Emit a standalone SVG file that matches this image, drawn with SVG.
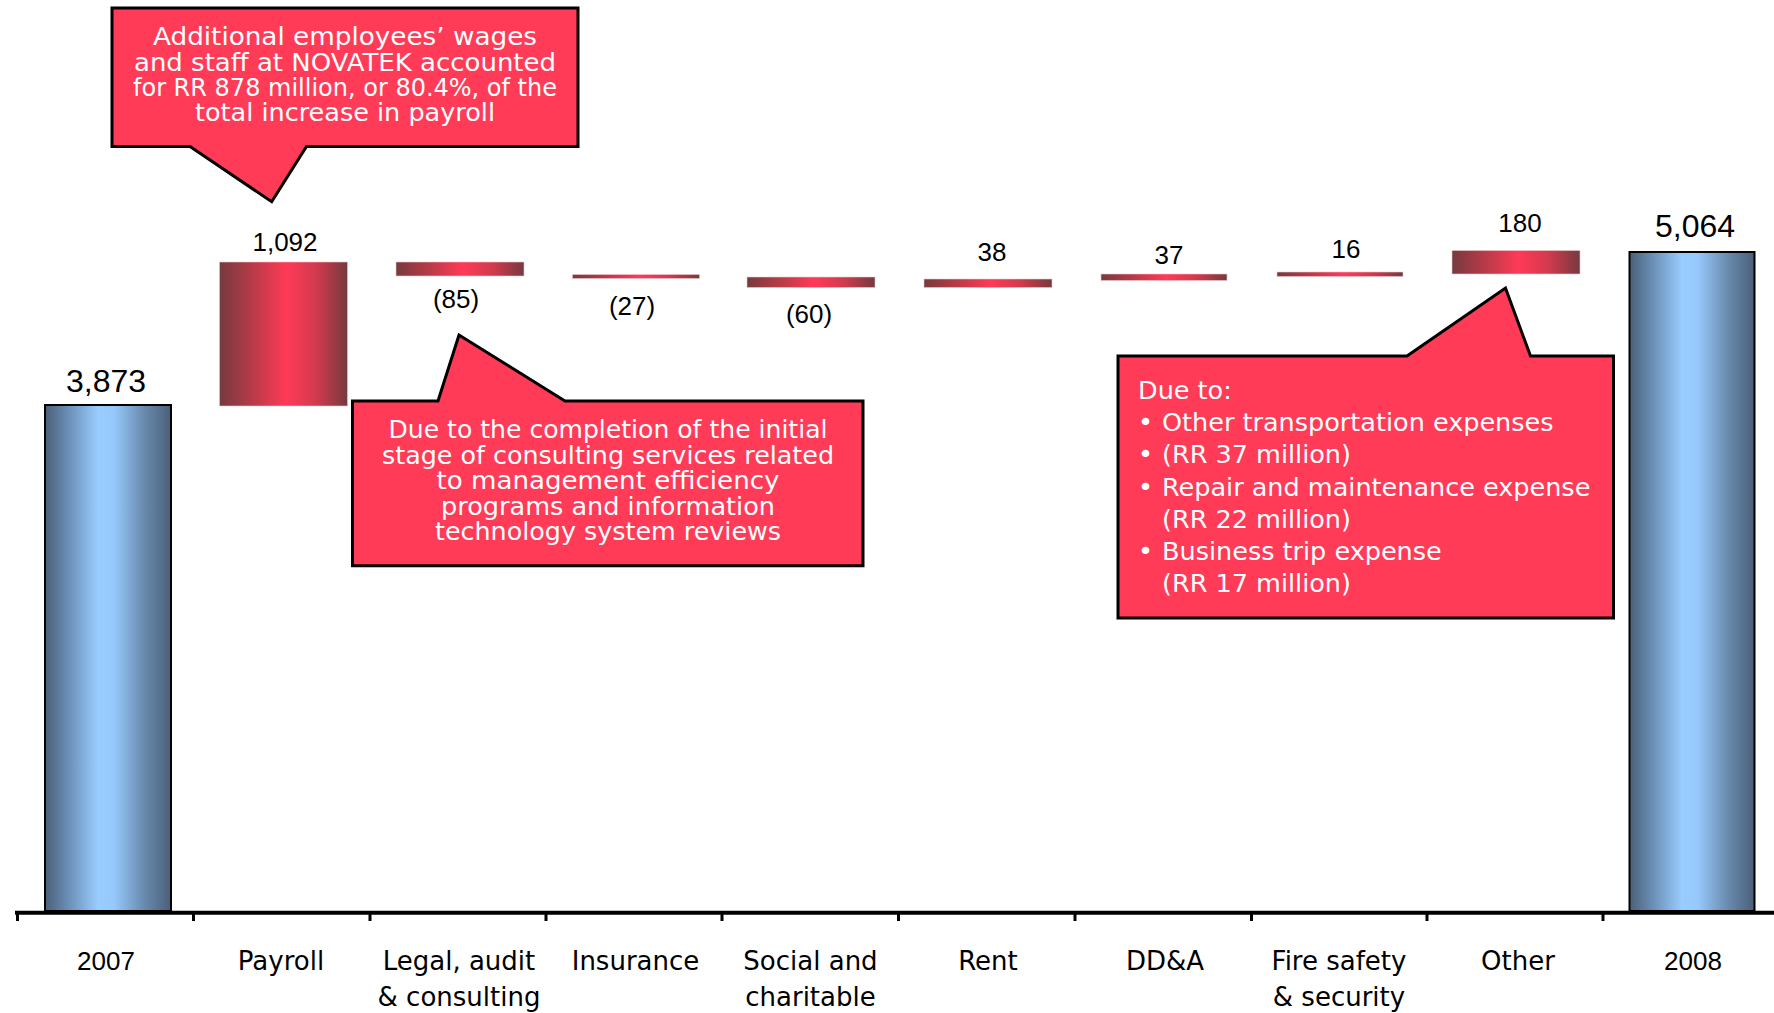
<svg xmlns="http://www.w3.org/2000/svg" width="1774" height="1013" viewBox="0 0 1774 1013">
<defs>
<linearGradient id="gRed" x1="0" y1="0" x2="1" y2="0">
<stop offset="0" stop-color="#763a3e"/>
<stop offset="0.25" stop-color="#b63a48"/>
<stop offset="0.52" stop-color="#ff3a58"/>
<stop offset="0.75" stop-color="#d33a4f"/>
<stop offset="1" stop-color="#763a3e"/>
</linearGradient>
<linearGradient id="gBlue" x1="0" y1="0" x2="1" y2="0">
<stop offset="0" stop-color="#4a6078"/>
<stop offset="0.18" stop-color="#6a8db4"/>
<stop offset="0.42" stop-color="#99ccff"/>
<stop offset="0.55" stop-color="#96c8fb"/>
<stop offset="0.78" stop-color="#6a8cb0"/>
<stop offset="1" stop-color="#4a5f77"/>
</linearGradient>
</defs>
<style>
.red{fill:url(#gRed);stroke:#e9c9cd;stroke-width:0.6}
.blue{fill:url(#gBlue);stroke:#000;stroke-width:2}
.call{fill:#ff3b57;stroke:#000;stroke-width:3;stroke-linejoin:miter}
.ct{font-family:"DejaVu Sans",sans-serif;fill:#fff;font-size:25px}
.num{font-family:"Liberation Sans",Arial,sans-serif;fill:#000;font-size:26px;text-anchor:middle}
.big{font-size:32px}
.lab{font-family:"DejaVu Sans",sans-serif;fill:#000;font-size:26px;text-anchor:middle}
.yr{font-family:"Liberation Sans",Arial,sans-serif}
.axis{stroke:#000;fill:none}
</style>
<rect width="1774" height="1013" fill="#fff"/>

<g id="bar-2007"><rect class="blue" x="45" y="405" width="126" height="506"/><text class="num big" x="106" y="392">3,873</text></g>
<g id="bar-payroll"><rect class="red" x="219.5" y="262" width="128" height="144"/><text class="num" x="285" y="251">1,092</text></g>
<g id="bar-legal"><rect class="red" x="396" y="262" width="128" height="14"/><text class="num" x="456" y="308">(85)</text></g>
<g id="bar-insurance"><rect class="red" x="572.5" y="274.5" width="127" height="4"/><text class="num" x="632" y="315">(27)</text></g>
<g id="bar-social"><rect class="red" x="747" y="277" width="128" height="10.5"/><text class="num" x="809" y="323">(60)</text></g>
<g id="bar-rent"><rect class="red" x="924" y="279" width="128" height="8.5"/><text class="num" x="992" y="260.5">38</text></g>
<g id="bar-dda"><rect class="red" x="1101" y="274" width="126" height="6.5"/><text class="num" x="1169" y="264">37</text></g>
<g id="bar-fire"><rect class="red" x="1277" y="272" width="126" height="4.5"/><text class="num" x="1346" y="257.5">16</text></g>
<g id="bar-other"><rect class="red" x="1452" y="250.5" width="128" height="23.5"/><text class="num" x="1520" y="231.5">180</text></g>
<g id="bar-2008"><rect class="blue" x="1629.5" y="252" width="125" height="659"/><text class="num big" x="1695" y="237">5,064</text></g>

<g id="axis">
<line class="axis" x1="15" y1="912.7" x2="1774" y2="912.7" stroke-width="4"/>
<path class="axis" stroke-width="3" d="M17.5,912 V921 M193.5,912 V921 M370,912 V921 M546,912 V921 M722,912 V921 M898.5,912 V921 M1075,912 V921 M1251.5,912 V921 M1427,912 V921 M1603,912 V921"/>
</g>

<g id="axis-labels">
<text class="lab yr" x="106" y="970">2007</text>
<text class="lab" x="281" y="970">Payroll</text>
<text class="lab" x="459" y="970">Legal, audit</text>
<text class="lab" x="459" y="1006">&amp; consulting</text>
<text class="lab" x="635.5" y="970">Insurance</text>
<text class="lab" x="810.5" y="970">Social and</text>
<text class="lab" x="810.5" y="1006">charitable</text>
<text class="lab" x="988" y="970">Rent</text>
<text class="lab" x="1165" y="970">DD&amp;A</text>
<text class="lab" x="1339" y="970">Fire safety</text>
<text class="lab" x="1339" y="1006">&amp; security</text>
<text class="lab" x="1518" y="970">Other</text>
<text class="lab yr" x="1693" y="970">2008</text>
</g>

<g id="callout-payroll">
<path class="call" d="M112,8 H578 V146.5 H306.5 L271.7,201.7 L190,146.5 H112 Z"/>
<g class="ct" style="font-size:24px" text-anchor="middle">
<text x="345" y="45" textLength="384" lengthAdjust="spacingAndGlyphs">Additional employees’ wages</text>
<text x="345" y="70.5" textLength="422" lengthAdjust="spacingAndGlyphs">and staff at NOVATEK accounted</text>
<text x="345" y="95.5" textLength="424" lengthAdjust="spacingAndGlyphs">for RR 878 million, or 80.4%, of the</text>
<text x="345" y="121" textLength="300" lengthAdjust="spacingAndGlyphs">total increase in payroll</text>
</g>
</g>

<g id="callout-legal">
<path class="call" d="M352.5,401 H438 L459,335 L565,401 H863 V565.7 H352.5 Z"/>
<g class="ct" style="font-size:24.5px" text-anchor="middle">
<text x="608" y="438" textLength="439" lengthAdjust="spacingAndGlyphs">Due to the completion of the initial</text>
<text x="608" y="463.5" textLength="452" lengthAdjust="spacingAndGlyphs">stage of consulting services related</text>
<text x="608" y="489" textLength="343" lengthAdjust="spacingAndGlyphs">to management efficiency</text>
<text x="608" y="514.5" textLength="334" lengthAdjust="spacingAndGlyphs">programs and information</text>
<text x="608" y="540" textLength="346" lengthAdjust="spacingAndGlyphs">technology system reviews</text>
</g>
</g>

<g id="callout-other">
<path class="call" d="M1118,356 H1407 L1505.5,288 L1530.5,356 H1613.5 V618 H1118 Z"/>
<text class="ct" style="font-size:25.5px">
<tspan x="1138" y="399">Due to:</tspan>
<tspan x="1138" y="431">•</tspan><tspan x="1162" y="431">Other transportation expenses</tspan>
<tspan x="1138" y="463">•</tspan><tspan x="1162" y="463">(RR 37 million)</tspan>
<tspan x="1138" y="495.5">•</tspan><tspan x="1162" y="495.5">Repair and maintenance expense</tspan>
<tspan x="1162" y="527.5">(RR 22 million)</tspan>
<tspan x="1138" y="559.5">•</tspan><tspan x="1162" y="559.5">Business trip expense</tspan>
<tspan x="1162" y="591.5">(RR 17 million)</tspan>
</text>
</g>
</svg>
